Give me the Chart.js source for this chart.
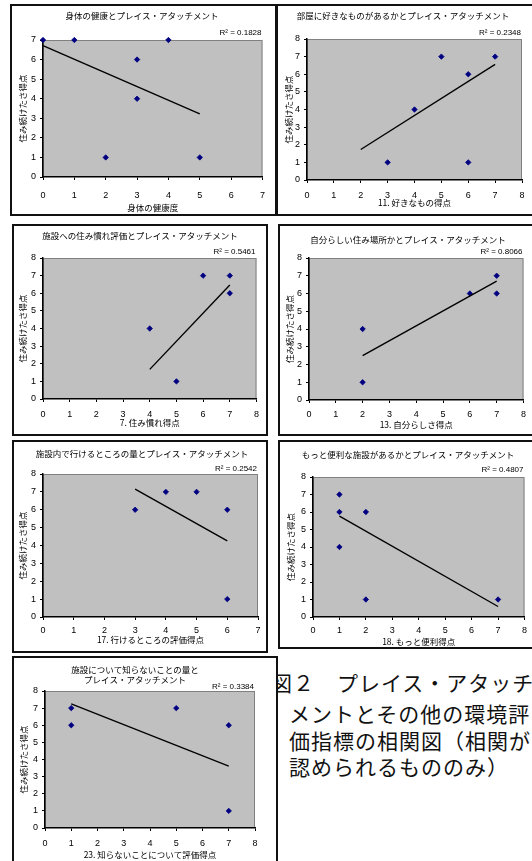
<!DOCTYPE html>
<html>
<head>
<meta charset="utf-8">
<script src="https://cdn.jsdelivr.net/npm/chart.js@4.4.1/dist/chart.umd.min.js"></script>
<style>
  body { margin: 0; width: 532px; height: 861px; background: #fff; position: relative; overflow: hidden; }
  .panel { position: absolute; border: 2px solid #111; box-sizing: border-box; background: #fff; overflow: hidden; }
  .panel canvas { position: absolute; left: 0; top: 0; }
  .cap { position: absolute; font-family: "Noto Sans CJK JP", sans-serif; font-size: 21px; letter-spacing: 1px; color: #111; white-space: nowrap; line-height: 1; }
</style>
</head>
<body>

<div class="cap" style="left:271px; top:672px;">図２　プレイス・アタッチ</div>
<div class="cap" style="left:289px; top:703px;">メントとその他の環境評</div>
<div class="cap" style="left:289px; top:730px;">価指標の相関図（相関が</div>
<div class="cap" style="left:289px; top:756px;">認められるもののみ）</div>

<script>
// ---- data ----
var yTitle = '住み続けたさ得点';

var titles = [
  ['身体の健康とプレイス・アタッチメント'],
  ['部屋に好きなものがあるかとプレイス・アタッチメント'],
  ['施設への住み慣れ評価とプレイス・アタッチメント'],
  ['自分らしい住み場所かとプレイス・アタッチメント'],
  ['施設内で行けるところの量とプレイス・アタッチメント'],
  ['もっと便利な施設があるかとプレイス・アタッチメント'],
  ['施設について知らないことの量と', 'プレイス・アタッチメント']
];
var xTitles = ['身体の健康度', '11. 好きなもの得点', '7. 住み慣れ得点', '13. 自分らしさ得点',
  '17. 行けるところの評価得点', '18. もっと便利得点', '23. 知らないことについて評価得点'];
var r2 = ['0.1828', '0.2348', '0.5461', '0.8066', '0.2542', '0.4807', '0.3384'];
var xMax = [7, 8, 8, 8, 7, 8, 8];
var yMax = [7, 8, 8, 8, 8, 8, 8];

var health_x = [0, 1, 2, 3, 3, 4, 5];
var health_y = [7, 7, 1, 6, 4, 7, 1];
var likes_x = [3, 4, 5, 6, 6, 7];
var likes_y = [1, 4, 7, 6, 1, 7];
var habit_x = [4, 5, 6, 7, 7];
var habit_y = [4, 1, 7, 7, 6];
var self_x = [2, 2, 6, 7, 7];
var self_y = [4, 1, 6, 7, 6];
var reach_x = [3, 4, 5, 6, 6];
var reach_y = [6, 7, 7, 6, 1];
var better_x = [1, 1, 1, 2, 2, 7];
var better_y = [7, 6, 4, 6, 1, 1];
var unknown_x = [1, 1, 5, 7, 7];
var unknown_y = [7, 6, 7, 6, 1];

// trend line end points as drawn
var trend_x = [[0, 5], [2, 7], [4, 7], [2, 7], [3, 6], [1, 7], [1, 7]];
var trend_y = [[6.71, 3.22], [1.73, 6.56], [1.68, 6.47], [2.5, 6.7], [7.16, 4.26], [5.77, 0.6], [7.25, 3.61]];

var seriesX = [health_x, likes_x, habit_x, self_x, reach_x, better_x, unknown_x];
var seriesY = [health_y, likes_y, habit_y, self_y, reach_y, better_y, unknown_y];

// ---- layout (page pixels) ----
// box: left, top, width, height ; plot: left, top, right, bottom
var layout = [
  { box: [10, 4, 267, 212],  plot: [43, 40, 268, 177],    titleX: 142, titleY: 16,  r2Y: 33,  xtY: 208, ytX: 23,  tickGap: 10 },
  { box: [276, 4, 258, 212], plot: [307, 39, 522, 180],   titleX: 403, titleY: 16,  r2Y: 33,  xtY: 203, ytX: 289, tickGap: 7 },
  { box: [12, 224, 256, 212], plot: [43, 258, 258, 399],  titleX: 140, titleY: 236, r2Y: 252, xtY: 423, ytX: 23,  tickGap: 7 },
  { box: [278, 224, 256, 212], plot: [309, 258, 524, 400], titleX: 408, titleY: 240, r2Y: 252, xtY: 425, ytX: 290, tickGap: 6 },
  { box: [12, 440, 256, 213], plot: [43, 474, 258, 617],  titleX: 142, titleY: 454, r2Y: 469, xtY: 640, ytX: 23,  tickGap: 5 },
  { box: [278, 440, 256, 209], plot: [313, 477, 527, 617], titleX: 408, titleY: 455, r2Y: 470, xtY: 642, ytX: 291, tickGap: 5 },
  { box: [12, 656, 266, 220], plot: [45, 691, 255, 828],  titleX: 135, titleY: 670, r2Y: 687, xtY: 855, ytX: 24,  tickGap: 7 }
];

var jp = '"Noto Sans CJK JP", sans-serif';
var latin = '"Liberation Sans", Arial, sans-serif';

var excelLook = {
  id: 'excelLook',
  beforeDraw: function(chart) {
    var a = chart.chartArea, ctx = chart.ctx;
    ctx.save();
    ctx.fillStyle = '#c0c0c0';
    ctx.fillRect(a.left, a.top, a.right - a.left, a.bottom - a.top);
    ctx.strokeStyle = '#808080';
    ctx.lineWidth = 1;
    ctx.strokeRect(a.left + 0.5, a.top + 0.5, a.right - a.left - 1, a.bottom - a.top - 1);
    ctx.restore();
  },
  afterDraw: function(chart, args, o) {
    var ctx = chart.ctx, a = chart.chartArea;
    ctx.save();
    ctx.fillStyle = '#000';
    ctx.textBaseline = 'middle';
    ctx.textAlign = 'center';
    ctx.font = '8.5px ' + jp;
    o.title.forEach(function(t, i) {
      ctx.fillText(t, o.titleX, o.titleY + i * 10);
    });
    ctx.fillText(o.xTitle, (a.left + a.right) / 2, o.xtY);
    ctx.save();
    ctx.translate(o.ytX, (a.top + a.bottom) / 2);
    ctx.rotate(-Math.PI / 2);
    ctx.fillText(yTitle, 0, 0);
    ctx.restore();
    ctx.textAlign = 'right';
    ctx.font = '8px ' + latin;
    ctx.fillText('R\u00b2 = ' + o.r2, a.right - 1, o.r2Y);
    ctx.restore();
  }
};

layout.forEach(function(L, i) {
  var div = document.createElement('div');
  div.className = 'panel';
  div.style.left = L.box[0] + 'px';
  div.style.top = L.box[1] + 'px';
  div.style.width = L.box[2] + 'px';
  div.style.height = L.box[3] + 'px';
  document.body.appendChild(div);

  var ox = L.box[0] + 2, oy = L.box[1] + 2;
  var w = L.box[2] - 4, h = L.box[3] - 4;
  var cv = document.createElement('canvas');
  cv.width = w; cv.height = h;
  cv.style.width = w + 'px'; cv.style.height = h + 'px';
  div.appendChild(cv);

  var pts = seriesX[i].map(function(x, k) { return { x: x, y: seriesY[i][k] }; });
  var trend = trend_x[i].map(function(x, k) { return { x: x, y: trend_y[i][k] }; });

  new Chart(cv.getContext('2d'), {
    type: 'scatter',
    data: {
      datasets: [{
        type: 'line',
        data: trend,
        borderColor: '#000',
        borderWidth: 1.4,
        pointRadius: 0,
        fill: false,
        clip: false
      }, {
        data: pts,
        pointStyle: 'rectRot',
        pointRadius: 2.7,
        backgroundColor: '#000080',
        borderColor: '#000080',
        borderWidth: 0.8,
        clip: false
      }]
    },
    options: {
      responsive: false,
      animation: false,
      devicePixelRatio: 1,
      layout: {
        padding: { left: 0, top: L.plot[1] - oy, right: ox + w - L.plot[2], bottom: 0 }
      },
      plugins: {
        legend: { display: false },
        tooltip: { enabled: false },
        excelLook: {
          title: titles[i],
          titleX: L.titleX - ox,
          titleY: L.titleY - oy,
          r2: r2[i],
          r2Y: L.r2Y - oy,
          xTitle: xTitles[i],
          xtY: L.xtY - oy,
          ytX: L.ytX - ox
        }
      },
      scales: {
        x: {
          type: 'linear',
          min: 0,
          max: xMax[i],
          afterFit: function(s) { s.height = oy + h - L.plot[3]; },
          ticks: { stepSize: 1, color: '#000', padding: L.tickGap, font: { family: latin, size: 9 } },
          grid: { drawOnChartArea: false, color: '#000', tickLength: 3 },
          border: { color: '#000', width: 1.5 }
        },
        y: {
          type: 'linear',
          min: 0,
          max: yMax[i],
          afterFit: function(s) { s.width = L.plot[0] - ox; },
          ticks: { stepSize: 1, color: '#000', padding: 4, font: { family: latin, size: 9 } },
          grid: { drawOnChartArea: false, color: '#000', tickLength: 3 },
          border: { color: '#000', width: 1.5 }
        }
      }
    },
    plugins: [excelLook]
  });
});
</script>
</body>
</html>
